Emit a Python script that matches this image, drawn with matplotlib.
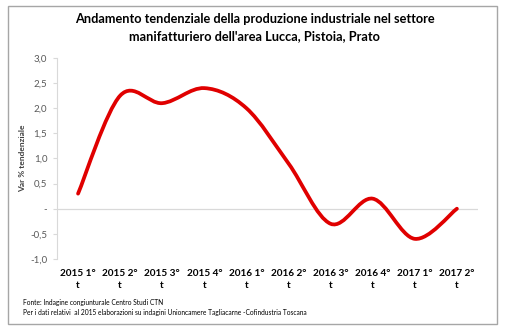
import matplotlib
matplotlib.use("Agg")
import matplotlib.pyplot as plt
from matplotlib.path import Path
from matplotlib.patches import PathPatch, Rectangle

# dati
periodi = ["2015 1°\nt", "2015 2°\nt", "2015 3°\nt", "2015 4°\nt", "2016 1°\nt",
           "2016 2°\nt", "2016 3°\nt", "2016 4°\nt", "2017 1°\nt", "2017 2°\nt"]
var_tendenziale = [0.3, 2.25, 2.1, 2.4, 2.0, 0.9, -0.3, 0.2, -0.6, 0.0]
y_ticks = [-1.0, -0.5, 0.0, 0.5, 1.0, 1.5, 2.0, 2.5, 3.0]
y_tick_labels = ["-1,0", "-0,5", "-", "0,5", "1,0", "1,5", "2,0", "2,5", "3,0"]

plt.rcParams['font.family'] = ['Lato', 'DejaVu Sans']

fig = plt.figure(figsize=(5.09, 3.35), dpi=100)
ax = fig.add_axes([0.112, 0.227, 0.827, 0.600])


def smooth_path(xs, ys):
    """linea smussata stile Excel (Bezier tipo Catmull-Rom)"""
    pts = list(zip(xs, ys))
    n = len(pts)
    verts = [pts[0]]
    codes = [Path.MOVETO]
    for i in range(n - 1):
        p0 = pts[max(i - 1, 0)]
        p1 = pts[i]
        p2 = pts[i + 1]
        p3 = pts[min(i + 2, n - 1)]
        c1 = (p1[0] + (p2[0] - p0[0]) / 6, p1[1] + (p2[1] - p0[1]) / 6)
        c2 = (p2[0] - (p3[0] - p1[0]) / 6, p2[1] - (p3[1] - p1[1]) / 6)
        verts += [c1, c2, p2]
        codes += [Path.CURVE4] * 3
    return Path(verts, codes)


x = list(range(len(periodi)))
ax.add_patch(PathPatch(smooth_path(x, var_tendenziale), facecolor='none',
                       edgecolor='#E00000', lw=2.7, capstyle='round', zorder=3))

ax.axhline(0, color='#D9D9D9', lw=0.9, zorder=1)
ax.set_xlim(-0.5, len(periodi) - 0.5)
ax.set_ylim(-1.0, 3.0)

ax.set_xticks(x)
ax.set_xticklabels(periodi, fontsize=7.2, fontweight='bold', linespacing=1.5)
ax.tick_params(axis='x', length=0, pad=7)
ax.set_yticks(y_ticks)
ax.set_yticklabels(y_tick_labels, fontsize=7, color='#595959')
ax.tick_params(axis='y', length=3, color='#D9D9D9', pad=4)

for s in ['top', 'right', 'bottom']:
    ax.spines[s].set_visible(False)
ax.spines['left'].set_color('#D9D9D9')

ax.set_ylabel("Var % tendenziale", fontsize=6, fontweight='bold', color='#404040')
ax.yaxis.set_label_coords(-0.074, 0.5)

fig.text(0.5, 0.918, "Andamento tendenziale della produzione industriale nel settore\n"
         "manifatturiero dell'area Lucca, Pistoia, Prato",
         ha='center', va='center', fontsize=9.2, fontweight='bold', linespacing=1.5)

fig.text(23 / 509, 1 - 303 / 335, "Fonte: Indagine congiunturale Centro Studi CTN",
         fontsize=4.8, va='center')
fig.text(23 / 509, 1 - 313 / 335,
         "Per i dati relativi  al 2015 elaborazioni su indagini Unioncamere Tagliacarne -Cofindustria Toscana",
         fontsize=4.8, va='center')

# cornice del grafico
fig.patches.append(Rectangle((8 / 509, 1 - 324 / 335), 489 / 509, 318 / 335,
                             transform=fig.transFigure, fill=False,
                             edgecolor='#A6A6A6', lw=1.0))

fig.savefig("out.png", dpi=100)
